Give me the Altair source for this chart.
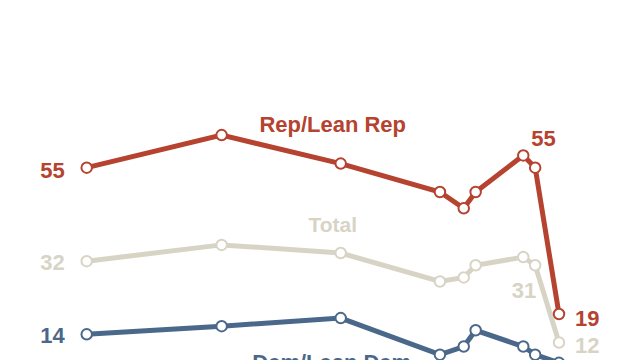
import altair as alt
import pandas as pd

dates = ["2012-04", "2015-02", "2017-08", "2019-09", "2020-03", "2020-06", "2021-06", "2021-09", "2022-03"]
rep = [55, 63, 56, 49, 45, 49, 58, 55, 19]
total = [32, 36, 34, 27, 28, 31, 33, 31, 12]
dem = [14, 16, 18, 9, 11, 15, 11, 9, 7]

series_names = ["Rep/Lean Rep", "Total", "Dem/Lean Dem"]
colors = ["#b5432f", "#d8d4c5", "#4a6889"]

def frac_year(d):
    y, m = d.split("-")
    return int(y) + (int(m) - 1) / 12.0

rows = []
for name, vals in zip(series_names, [rep, total, dem]):
    for i, (d, v) in enumerate(zip(dates, vals)):
        rows.append({"series": name, "t": frac_year(d), "v": v, "i": i})
df = pd.DataFrame(rows)

x0 = frac_year(dates[0])
x1 = frac_year(dates[-1])
xs = alt.X("t:Q", scale=alt.Scale(domain=[x0, x1], nice=False, zero=False), axis=None)
ys = alt.Y("v:Q", scale=alt.Scale(domain=[10, 80], nice=False, zero=False), axis=None)
col = alt.Color("series:N", scale=alt.Scale(domain=series_names, range=colors), legend=None)

base = alt.Chart(df)
lines = base.mark_line(strokeWidth=5, clip=False).encode(x=xs, y=ys, color=col, detail="series:N")
pts = base.mark_point(shape="circle", filled=False, fill="white", fillOpacity=1, size=110, strokeWidth=2, opacity=1, clip=False).encode(
    x=xs, y=ys, stroke=alt.Stroke("series:N", scale=alt.Scale(domain=series_names, range=colors), legend=None))

FONT = "Liberation Sans"

def label(series, idx, text, color, align, dx, dy, size=22):
    d = df[(df.series == series) & (df.i == idx)].copy()
    d["label"] = text
    return alt.Chart(d).mark_text(font=FONT, fontWeight="bold", fontSize=size, color=color,
                                  align=align, baseline="alphabetic", dx=dx, dy=dy, clip=False).encode(
        x=xs, y=ys, text="label:N")

labels = [
    label("Rep/Lean Rep", 0, "55", colors[0], "right", -22, 10),
    label("Total", 0, "32", colors[1], "right", -22, 9),
    label("Dem/Lean Dem", 0, "14", colors[2], "right", -22, 9),
    label("Rep/Lean Rep", 2, "Rep/Lean Rep", colors[0], "center", -8, -32),
    label("Total", 2, "Total", colors[1], "center", -8, -21, 21),
    label("Dem/Lean Dem", 2, "Dem/Lean Dem", colors[2], "center", -9, 52),
    label("Rep/Lean Rep", 7, "55", colors[0], "left", -4, -22),
    label("Rep/Lean Rep", 8, "19", colors[0], "left", 16, 12),
    label("Total", 8, "12", colors[1], "left", 16, 11),
    label("Total", 7, "31", colors[1], "right", 1, 33),
]

chart = alt.layer(lines, pts, *labels).properties(
    width=472.3, height=284.6,
    autosize=alt.AutoSizeParams(type="none"),
    padding={"left": 78.7, "top": 58, "right": 44, "bottom": 9},
    background="white",
).configure_view(stroke=None)

chart.save("out.html", embed_options={"renderer": "svg", "actions": False})
